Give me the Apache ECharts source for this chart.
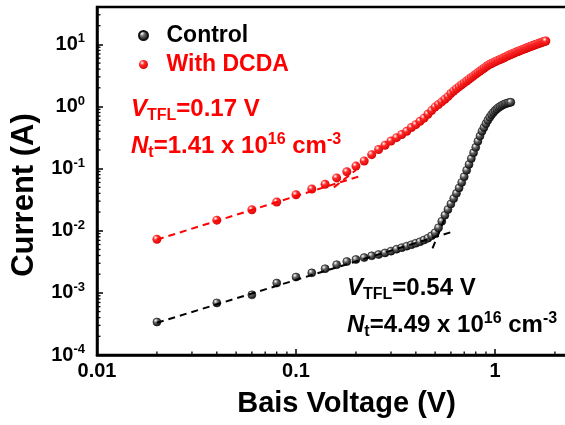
<!DOCTYPE html>
<html><head><meta charset="utf-8">
<script src="https://cdn.jsdelivr.net/npm/echarts@6/dist/echarts.min.js"></script>
<style>html,body{margin:0;padding:0;background:#fff}#c{width:565px;height:425px}</style>
</head><body><div id="c"></div>
<script>
const controlV = [0.02,0.04,0.06,0.08,0.10,0.12,0.14,0.16,0.18,0.20,0.22,0.24,0.26,0.28,0.30,0.32,0.34,0.36,0.38,0.40,0.42,0.44,0.46,0.48,0.50,0.52,0.54,0.56,0.58,0.60,0.62,0.64,0.66,0.68,0.70,0.72,0.74,0.76,0.78,0.80,0.82,0.84,0.86,0.88,0.90,0.92,0.94,0.96,0.98,1.00,1.02,1.04,1.06,1.08,1.10,1.12,1.14,1.16,1.18,1.20];
const controlI = [3.4e-4,6.9e-4,9.3e-4,1.44e-3,1.8e-3,2.1e-3,2.45e-3,2.85e-3,3.2e-3,3.45e-3,3.7e-3,3.95e-3,4.15e-3,4.4e-3,4.7e-3,5.05e-3,5.35e-3,5.65e-3,5.95e-3,6.3e-3,6.65e-3,7.1e-3,7.6e-3,8.3e-3,9.3e-3,0.0112,0.0142,0.0178,0.022,0.027,0.033,0.040,0.049,0.060,0.074,0.094,0.117,0.145,0.18,0.22,0.275,0.335,0.40,0.46,0.53,0.60,0.67,0.74,0.80,0.86,0.91,0.96,1.00,1.04,1.07,1.10,1.12,1.14,1.16,1.17];
const dcdaV = [0.02,0.04,0.06,0.08,0.10,0.12,0.14,0.16,0.18,0.20,0.22,0.24,0.26,0.28,0.30,0.32,0.34,0.36,0.38,0.40,0.42,0.44,0.46,0.48,0.50,0.52,0.54,0.56,0.58,0.60,0.62,0.64,0.66,0.68,0.70,0.72,0.74,0.76,0.78,0.80,0.82,0.84,0.86,0.88,0.90,0.92,0.94,0.96,0.98,1.00,1.02,1.04,1.06,1.08,1.10,1.12,1.14,1.16,1.18,1.20,1.22,1.24,1.26,1.28,1.30,1.32,1.34,1.36,1.38,1.40,1.42,1.44,1.46,1.48,1.50,1.52,1.54,1.56,1.58,1.60,1.62,1.64,1.66,1.68,1.70,1.72,1.74,1.76,1.78,1.80];
const dcdaI = [0.0073,0.0148,0.0218,0.029,0.038,0.047,0.056,0.071,0.089,0.110,0.133,0.168,0.203,0.238,0.278,0.315,0.355,0.40,0.46,0.51,0.58,0.65,0.75,0.86,0.98,1.08,1.19,1.31,1.44,1.62,1.78,1.93,2.08,2.24,2.40,2.57,2.75,2.93,3.12,3.32,3.52,3.72,3.92,4.13,4.35,4.57,4.77,4.93,5.08,5.25,5.42,5.58,5.72,5.88,6.05,6.22,6.40,6.55,6.72,6.88,7.04,7.20,7.36,7.52,7.68,7.84,8.00,8.15,8.30,8.45,8.60,8.75,8.90,9.05,9.20,9.35,9.50,9.65,9.80,9.95,10.1,10.25,10.4,10.5,10.65,10.8,10.95,11.1,11.2,11.35];
const controlFitV = [0.02, 0.62];
const controlFitI = [3.3e-4, 0.0098];
const controlTflV = [0.485, 0.56];
const controlTflI = [0.0052, 0.016];
const dcdaFitV = [0.02, 0.21];
const dcdaFitI = [0.0072, 0.076];
const dcdaTflV = [0.155, 0.2];
const dcdaTflI = [0.05, 0.095];
const xTickLabels = ['0.01', '0.1', '1'];
const yTickExps = ['-4', '-3', '-2', '-1', '0', '1'];
const xMinorTicks = [0.02,0.03,0.04,0.05,0.06,0.07,0.08,0.09,0.2,0.3,0.4,0.5,0.6,0.7,0.8,0.9,2];
const yMinorTicks = [2e-4,3e-4,4e-4,5e-4,6e-4,7e-4,8e-4,9e-4,2e-3,3e-3,4e-3,5e-3,6e-3,7e-3,8e-3,9e-3,0.02,0.03,0.04,0.05,0.06,0.07,0.08,0.09,0.2,0.3,0.4,0.5,0.6,0.7,0.8,0.9,2,3,4,5,6,7,8,9,20,30];

const X_MIN = 0.01, X_MAX = 3, Y_MIN = 1e-4, Y_MAX = 40;
const RED = '#ff0000';
const FONT = '"Liberation Sans", Arial, Helvetica, sans-serif';
const zip = (a, b) => a.map((v, i) => [v, b[i]]);
const isPow = v => Math.abs(Math.log10(v) - Math.round(Math.log10(v))) < 1e-6;
const ball = (mid, dark) => ({type: 'radial', x: 0.35, y: 0.32, r: 0.75,
  colorStops: [{offset: 0, color: '#ffffff'}, {offset: 0.35, color: mid}, {offset: 1, color: dark}]});

const chart = echarts.init(document.getElementById('c'), null, {renderer: 'canvas'});
const axisCommon = {
  type: 'log', logBase: 10,
  axisLine: {show: true, lineStyle: {color: '#000', width: 2.5}},
  axisTick: {show: true, inside: true, length: 6, lineStyle: {color: '#000', width: 1.5}},
  splitLine: {show: false},
  minorTick: {show: false},
  nameLocation: 'middle'
};
function fitLine(name, v, i, color) {
  return {type: 'line', name: name, data: zip(v, i), showSymbol: false, symbol: 'none', silent: true, z: 4,
    lineStyle: {color: color, width: 2, type: [7, 5]}};
}
function tickSeries(data, horizontal) {
  return {type: 'custom', coordinateSystem: 'cartesian2d', silent: true, clip: false, z: 6, data: data,
    renderItem: (p, api) => {
      const pt = api.coord([api.value(0), api.value(1)]);
      return {type: 'line', shape: horizontal ? {x1: pt[0], y1: pt[1], x2: pt[0] + 3.5, y2: pt[1]}
                                              : {x1: pt[0], y1: pt[1], x2: pt[0], y2: pt[1] - 3.5},
        style: {stroke: '#000', lineWidth: 1.3}};
    }};
}
const txt = (c) => ({
  m: {fontSize: 24, fontWeight: 'bold', fontFamily: FONT, fill: c, color: c},
  i: {fontSize: 24, fontWeight: 'bold', fontStyle: 'italic', fontFamily: FONT, fill: c, color: c},
  sub: {fontSize: 16, fontWeight: 'bold', fontFamily: FONT, fill: c, color: c, padding: [13, 0, 0, 0]},
  sup: {fontSize: 16, fontWeight: 'bold', fontFamily: FONT, fill: c, color: c, padding: [0, 0, 13, 0]}
});
chart.setOption({
  animation: false,
  backgroundColor: '#fff',
  grid: {left: 97, top: 7, right: -25, bottom: 70, show: true, borderColor: '#000', borderWidth: 2.5,
    containLabel: false, outerBoundsMode: 'none'},
  xAxis: Object.assign({}, axisCommon, {
    min: X_MIN, max: X_MAX, name: 'Bais Voltage (V)', nameGap: 34,
    nameTextStyle: {fontSize: 29, fontWeight: 'bold', color: '#000', fontFamily: FONT, padding: [0, 0, 0, 6]},
    axisLabel: {margin: 6, fontSize: 20, fontWeight: 'bold', color: '#000', fontFamily: FONT,
      formatter: v => isPow(v) ? (xTickLabels[Math.round(Math.log10(v)) + 2] || '') : ''}
  }),
  yAxis: Object.assign({}, axisCommon, {
    min: Y_MIN, max: Y_MAX, name: 'Current (A)', nameGap: 50,
    nameTextStyle: {fontSize: 31, fontWeight: 'bold', color: '#000', fontFamily: FONT, padding: [0, 28, 0, 0]},
    axisLabel: {margin: 12, color: '#000',
      formatter: v => { if (!isPow(v)) return ''; const e = yTickExps[Math.round(Math.log10(v)) + 4]; return e === undefined ? '' : '{b|10}{s|' + e + '}'; },
      rich: {b: {fontSize: 20, fontWeight: 'bold', fontFamily: FONT, color: '#000'},
             s: {fontSize: 13, fontWeight: 'bold', fontFamily: FONT, color: '#000', padding: [0, 0, 11, 0]}}}
  }),
  legend: {
    orient: 'vertical', left: 133, top: 19, itemWidth: 36, itemHeight: 9, itemGap: 6, icon: 'circle',
    textStyle: {fontSize: 23, fontWeight: 'bold', fontFamily: FONT},
    data: [{name: 'Control', textStyle: {color: '#000'}}, {name: 'With DCDA', textStyle: {color: RED}}]
  },
  series: [
    {type: 'scatter', name: 'With DCDA', data: zip(dcdaV, dcdaI), symbol: 'circle', symbolSize: 9, z: 3,
      itemStyle: {color: ball('#ff2a2a', '#d80000'), opacity: 1}},
    {type: 'scatter', name: 'Control', data: zip(controlV, controlI), symbol: 'circle', symbolSize: 8, z: 3,
      itemStyle: {color: ball('#666666', '#000000'), borderColor: '#111', borderWidth: 0.6, opacity: 1}},
    fitLine('fitC1', controlFitV, controlFitI, '#000'),
    fitLine('fitC2', controlTflV, controlTflI, '#000'),
    fitLine('fitD1', dcdaFitV, dcdaFitI, RED),
    fitLine('fitD2', dcdaTflV, dcdaTflI, RED),
    tickSeries(xMinorTicks.map(v => [v, Y_MIN]), false),
    tickSeries(yMinorTicks.map(v => [X_MIN, v]), true)
  ],
  graphic: [
    {type: 'text', left: 131, top: 97, style: {text: '{i|V}{sub|TFL}{m|=0.17 V}', rich: txt(RED)}},
    {type: 'text', left: 131, top: 132, style: {text: '{i|N}{sub|t}{m|=1.41 x 10}{sup|16}{m| cm}{sup|-3}', rich: txt(RED)}},
    {type: 'text', left: 347, top: 276, style: {text: '{i|V}{sub|TFL}{m|=0.54 V}', rich: txt('#000')}},
    {type: 'text', left: 347, top: 311, style: {text: '{i|N}{sub|t}{m|=4.49 x 10}{sup|16}{m| cm}{sup|-3}', rich: txt('#000')}}
  ]
});
</script></body></html>
